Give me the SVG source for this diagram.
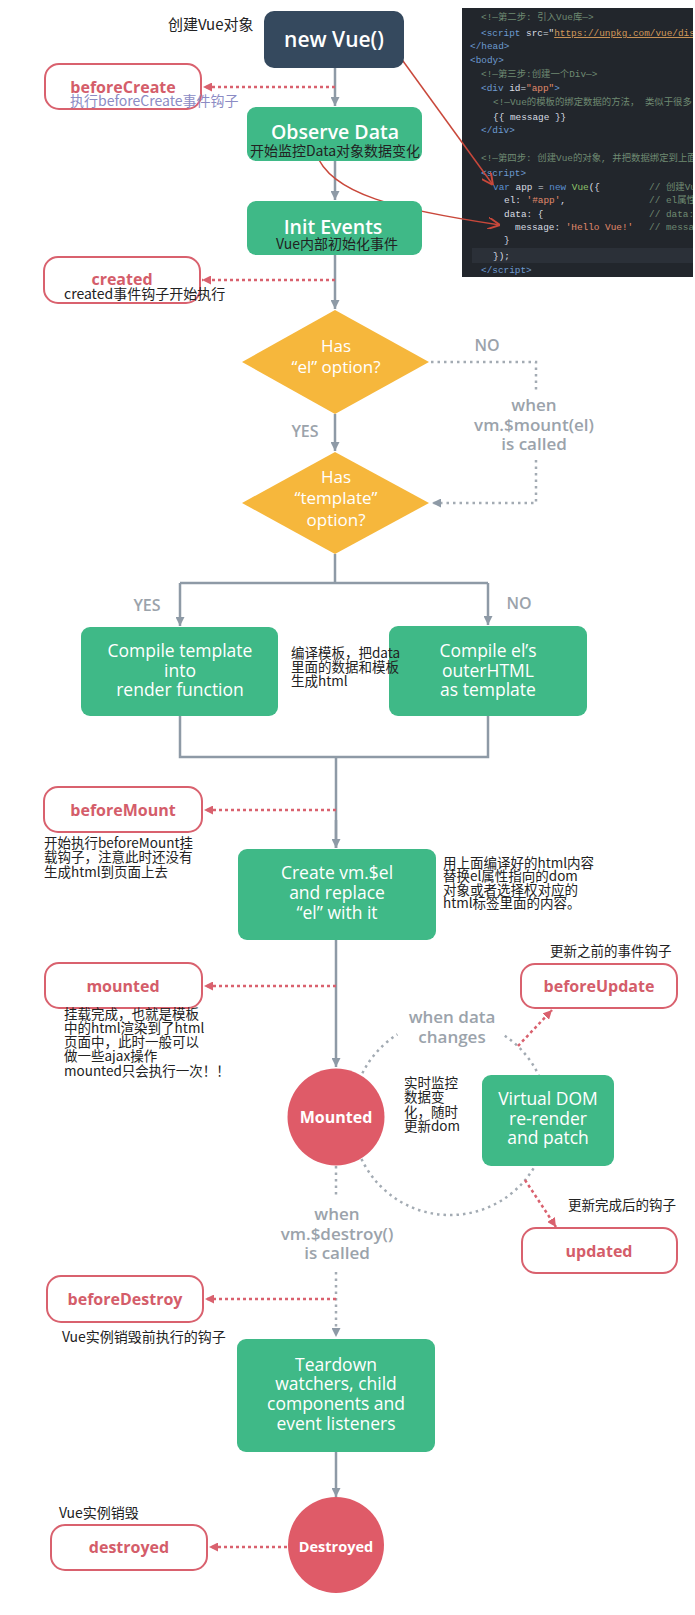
<svg xmlns="http://www.w3.org/2000/svg" width="695" height="1615" viewBox="0 0 695 1615">
<style>
.box{fill:#3fb987}
.hook{fill:#fff;stroke:#d9616e;stroke-width:2}
.ht{font-family:'Open Sans','Noto Sans',sans-serif;font-weight:700;font-size:16px;fill:#d45d6a;text-anchor:middle}
.wt{font-family:'Open Sans','Noto Sans',sans-serif;font-weight:600;fill:#fff;text-anchor:middle}
.gt{font-family:'Open Sans','Noto Sans',sans-serif;font-weight:600;fill:#9ba3ab;text-anchor:middle}
.an{font-family:'Noto Sans CJK SC','Noto Sans',sans-serif;font-size:13.5px;fill:#222}
.main{stroke:#8e9aa6;stroke-width:2.5;fill:none}
.dash{stroke:#d9616e;stroke-width:2.5;stroke-dasharray:3 3;fill:none}
.dot{stroke:#a3abb3;stroke-width:2.5;stroke-dasharray:2.5 4;fill:none}
.code{font-family:'Liberation Mono','Noto Sans CJK SC',monospace;font-size:9.4px}
.cm{fill:#6f8a72}.tg{fill:#6d9bd1}.kw{fill:#5a8fd0}.st{fill:#e08a6b}.pl{fill:#d9dde3}.fn{fill:#8fc46a}.url{fill:#d39a5a;text-decoration:underline}
.red{stroke:#c9483b;stroke-width:1.5;fill:none}
</style>
<defs>
<marker id="ag" viewBox="0 0 10 10" refX="10" refY="5" markerWidth="9" markerHeight="9" markerUnits="userSpaceOnUse" orient="auto"><path d="M0,0 L10,5 L0,10 z" fill="#8e9aa6"/></marker>
<marker id="ar" viewBox="0 0 10 10" refX="10" refY="5" markerWidth="9" markerHeight="9" markerUnits="userSpaceOnUse" orient="auto"><path d="M0,0 L10,5 L0,10 z" fill="#d9616e"/></marker>
<marker id="ac" viewBox="0 0 10 10" refX="10" refY="5" markerWidth="12" markerHeight="12" markerUnits="userSpaceOnUse" orient="auto"><path d="M0,0 L10,5 L0,10" fill="none" stroke="#c9483b" stroke-width="1.6"/></marker>
<clipPath id="cc"><rect x="462" y="8" width="231" height="269"/></clipPath>
</defs>

<g id="code-screenshot">
<rect x="462" y="8" width="231" height="269" fill="#22262c"/>
<rect x="472" y="248" width="221" height="15" fill="#2b3038"/>
<g clip-path="url(#cc)" class="code" xml:space="preserve">
<text x="481" y="20" class="cm">&lt;!—第二步: 引入Vue库—&gt;</text>
<text x="481" y="36"><tspan class="tg">&lt;script</tspan><tspan class="pl"> src="</tspan><tspan class="url">https://unpkg.com/vue/dis</tspan></text>
<text x="470" y="49" class="tg">&lt;/head&gt;</text>
<text x="470" y="63" class="tg">&lt;body&gt;</text>
<text x="481" y="77" class="cm">&lt;!—第三步:创建一个Div—&gt;</text>
<text x="481" y="91"><tspan class="tg">&lt;div</tspan><tspan class="pl"> id=</tspan><tspan class="st">"app"</tspan><tspan class="tg">&gt;</tspan></text>
<text x="493" y="105" class="cm">&lt;!—Vue的模板的绑定数据的方法， 类似于很多</text>
<text x="493" y="120" class="pl">{{ message }}</text>
<text x="481" y="133" class="tg">&lt;/div&gt;</text>
<text x="481" y="161" class="cm">&lt;!—第四步: 创建Vue的对象, 并把数据绑定到上面</text>
<text x="481" y="176" class="tg">&lt;script&gt;</text>
<text x="493" y="190"><tspan class="kw">var</tspan><tspan class="pl"> app = </tspan><tspan class="kw">new</tspan><tspan class="fn"> Vue</tspan><tspan class="pl">({</tspan></text>
<text x="649" y="190" class="cm">// 创建Vu</text>
<text x="504" y="203"><tspan class="pl">el: </tspan><tspan class="st">'#app'</tspan><tspan class="pl">,</tspan></text>
<text x="649" y="203" class="cm">// el属性</text>
<text x="504" y="217" class="pl">data: {</text>
<text x="649" y="217" class="cm">// data:</text>
<text x="515" y="230"><tspan class="pl">message: </tspan><tspan class="st">'Hello Vue!'</tspan></text>
<text x="649" y="230" class="cm">// messa</text>
<text x="504" y="243" class="pl">}</text>
<text x="493" y="259" class="pl">});</text>
<text x="481" y="273" class="tg">&lt;/script&gt;</text>
</g>
</g>

<g id="connectors">
<path class="main" d="M335 68 V106" marker-end="url(#ag)"/>
<path class="main" d="M335 161 V200" marker-end="url(#ag)"/>
<path class="main" d="M335 255 V309" marker-end="url(#ag)"/>
<path class="main" d="M335 414 V451" marker-end="url(#ag)"/>
<path class="main" d="M335 554 V583 M180 583 H488"/>
<path class="main" d="M180 583 V626" marker-end="url(#ag)"/>
<path class="main" d="M488 583 V625" marker-end="url(#ag)"/>
<path class="main" d="M180 716 V757 H488 V716 M336 757 V848" />
<path class="main" d="M336 820 V848" marker-end="url(#ag)"/>
<path class="main" d="M336 940 V1067" marker-end="url(#ag)"/>
<path class="dot" d="M336 1166 V1197"/>
<path class="dot" d="M336 1272 V1337" marker-end="url(#ag)"/>
<path class="main" d="M336 1452 V1497" marker-end="url(#ag)"/>
<path class="dot" d="M431 362 H536 V392"/>
<path class="dot" d="M536 460 V503 H432" marker-end="url(#ag)"/>
<path class="dash" d="M335 87 H203" marker-end="url(#ar)"/>
<path class="dash" d="M335 280 H202" marker-end="url(#ar)"/>
<path class="dash" d="M336 810 H204" marker-end="url(#ar)"/>
<path class="dash" d="M336 986 H204" marker-end="url(#ar)"/>
<path class="dash" d="M336 1299 H205" marker-end="url(#ar)"/>
<path class="dash" d="M287 1547 H209" marker-end="url(#ar)"/>
<path class="dot" d="M504.8 1035.8 A98 98 0 1 1 397.4 1034.4"/>
<path class="dash" d="M518 1046 L552 1010" marker-end="url(#ar)"/>
<path class="dash" d="M525 1180 L556 1227" marker-end="url(#ar)"/>
<path class="red" d="M395 50 L493 185" marker-end="url(#ac)"/>
<path class="red" d="M316 153 C330 195 400 210 500 225" marker-end="url(#ac)"/>
</g>

<g id="label-create">
<text x="168" y="30" class="an" style="font-size:15px">创建Vue对象</text>
</g>

<g id="new-vue">
<rect x="264" y="11" width="140" height="57" rx="10" fill="#35495e"/>
<text x="334" y="47" class="wt" style="font-size:21px">new Vue()</text>
</g>

<g id="beforeCreate">
<rect class="hook" x="45" y="64" width="156" height="45" rx="14"/>
<text x="123" y="93" class="ht">beforeCreate</text>
<text x="70" y="106" class="an" style="font-size:14px;fill:#8b8bc4">执行beforeCreate事件钩子</text>
</g>

<g id="observe-data">
<rect class="box" x="247" y="107" width="175" height="54" rx="9"/>
<text x="335" y="139" class="wt" style="font-size:19.5px">Observe Data</text>
<text x="335" y="156" class="an" style="font-size:14px;text-anchor:middle">开始监控Data对象数据变化</text>
</g>

<g id="init-events">
<rect class="box" x="247" y="201" width="175" height="54" rx="9"/>
<text x="333" y="234" class="wt" style="font-size:19.5px">Init Events</text>
<text x="337" y="249" class="an" style="font-size:14px;text-anchor:middle">Vue内部初始化事件</text>
</g>

<g id="created">
<rect class="hook" x="44" y="257" width="156" height="46" rx="14"/>
<text x="122" y="285" class="ht">created</text>
<text x="64" y="299" class="an" style="font-size:14px">created事件钩子开始执行</text>
</g>

<g id="has-el">
<polygon points="335,310 429,362 335,414 242,362" fill="#f6b73c"/>
<text x="336" y="352" class="wt" style="font-size:17px;font-weight:500">Has</text>
<text x="336" y="373" class="wt" style="font-size:17px;font-weight:500">“el” option?</text>
</g>

<g id="labels-el">
<text x="487" y="351" class="gt" style="font-size:16px">NO</text>
<text x="305" y="437" class="gt" style="font-size:16px">YES</text>
<text x="534" y="411" class="gt" style="font-size:17px">when</text>
<text x="534" y="431" class="gt" style="font-size:17px">vm.$mount(el)</text>
<text x="534" y="450" class="gt" style="font-size:17px">is called</text>
</g>

<g id="has-template">
<polygon points="335,452 429,503 335,554 242,503" fill="#f6b73c"/>
<text x="336" y="483" class="wt" style="font-size:17px;font-weight:500">Has</text>
<text x="336" y="504" class="wt" style="font-size:17px;font-weight:500">“template”</text>
<text x="336" y="526" class="wt" style="font-size:17px;font-weight:500">option?</text>
</g>

<g id="labels-template">
<text x="147" y="611" class="gt" style="font-size:16px">YES</text>
<text x="519" y="609" class="gt" style="font-size:16px">NO</text>
</g>

<g id="compile-template">
<rect class="box" x="81" y="627" width="197" height="89" rx="9"/>
<text x="180" y="657" class="wt" style="font-size:17.5px;font-weight:500">Compile template</text>
<text x="180" y="677" class="wt" style="font-size:17.5px;font-weight:500">into</text>
<text x="180" y="696" class="wt" style="font-size:17.5px;font-weight:500">render function</text>
</g>

<g id="compile-el">
<rect class="box" x="389" y="626" width="198" height="90" rx="9"/>
<text x="488" y="657" class="wt" style="font-size:17.5px;font-weight:500">Compile el’s</text>
<text x="488" y="677" class="wt" style="font-size:17.5px;font-weight:500">outerHTML</text>
<text x="488" y="696" class="wt" style="font-size:17.5px;font-weight:500">as template</text>
</g>

<g id="compile-note">
<text x="291" y="658" class="an">编译模板，把data</text>
<text x="291" y="672" class="an">里面的数据和模板</text>
<text x="291" y="686" class="an">生成html</text>
</g>

<g id="beforeMount">
<rect class="hook" x="44" y="787" width="158" height="45" rx="14"/>
<text x="123" y="816" class="ht">beforeMount</text>
<text x="44" y="848" class="an">开始执行beforeMount挂</text>
<text x="44" y="862" class="an">载钩子，注意此时还没有</text>
<text x="44" y="877" class="an">生成html到页面上去</text>
</g>

<g id="create-el">
<rect class="box" x="238" y="849" width="198" height="91" rx="9"/>
<text x="337" y="879" class="wt" style="font-size:17.5px;font-weight:500">Create vm.$el</text>
<text x="337" y="899" class="wt" style="font-size:17.5px;font-weight:500">and replace</text>
<text x="337" y="919" class="wt" style="font-size:17.5px;font-weight:500">“el” with it</text>
</g>

<g id="create-note">
<text x="443" y="868" class="an">用上面编译好的html内容</text>
<text x="443" y="881" class="an">替换el属性指向的dom</text>
<text x="443" y="895" class="an">对象或者选择权对应的</text>
<text x="443" y="908" class="an">html标签里面的内容。</text>
</g>

<g id="mounted">
<rect class="hook" x="45" y="963" width="157" height="45" rx="14"/>
<text x="123" y="992" class="ht">mounted</text>
<text x="64" y="1019" class="an">挂载完成，也就是模板</text>
<text x="64" y="1033" class="an">中的html渲染到了html</text>
<text x="64" y="1047" class="an">页面中，此时一般可以</text>
<text x="64" y="1061" class="an">做一些ajax操作</text>
<text x="64" y="1076" class="an">mounted只会执行一次！！</text>
</g>

<g id="beforeUpdate">
<text x="550" y="956" class="an">更新之前的事件钩子</text>
<rect class="hook" x="521" y="964" width="156" height="44" rx="14"/>
<text x="599" y="992" class="ht">beforeUpdate</text>
</g>

<g id="label-data-changes">
<text x="452" y="1023" class="gt" style="font-size:17px">when data</text>
<text x="452" y="1043" class="gt" style="font-size:17px">changes</text>
</g>

<g id="mounted-state">
<circle cx="336" cy="1117" r="48.5" fill="#df5b68"/>
<text x="336" y="1123" class="wt" style="font-size:16px;font-weight:700">Mounted</text>
</g>

<g id="realtime-note">
<text x="404" y="1088" class="an">实时监控</text>
<text x="404" y="1102" class="an">数据变</text>
<text x="404" y="1117" class="an">化，随时</text>
<text x="404" y="1131" class="an">更新dom</text>
</g>

<g id="virtual-dom">
<rect class="box" x="482" y="1075" width="132" height="91" rx="9"/>
<text x="548" y="1105" class="wt" style="font-size:17.5px;font-weight:500">Virtual DOM</text>
<text x="548" y="1125" class="wt" style="font-size:17.5px;font-weight:500">re-render</text>
<text x="548" y="1144" class="wt" style="font-size:17.5px;font-weight:500">and patch</text>
</g>

<g id="updated">
<text x="568" y="1210" class="an">更新完成后的钩子</text>
<rect class="hook" x="522" y="1228" width="155" height="45" rx="14"/>
<text x="599" y="1257" class="ht">updated</text>
</g>

<g id="label-destroy">
<text x="337" y="1220" class="gt" style="font-size:17px">when</text>
<text x="337" y="1240" class="gt" style="font-size:17px">vm.$destroy()</text>
<text x="337" y="1259" class="gt" style="font-size:17px">is called</text>
</g>

<g id="beforeDestroy">
<rect class="hook" x="47" y="1276" width="156" height="46" rx="14"/>
<text x="125" y="1305" class="ht">beforeDestroy</text>
<text x="62" y="1342" class="an" style="font-size:14px">Vue实例销毁前执行的钩子</text>
</g>

<g id="teardown">
<rect class="box" x="237" y="1339" width="198" height="113" rx="9"/>
<text x="336" y="1371" class="wt" style="font-size:17.5px;font-weight:500">Teardown</text>
<text x="336" y="1390" class="wt" style="font-size:17.5px;font-weight:500">watchers, child</text>
<text x="336" y="1410" class="wt" style="font-size:17.5px;font-weight:500">components and</text>
<text x="336" y="1430" class="wt" style="font-size:17.5px;font-weight:500">event listeners</text>
</g>

<g id="destroyed-state">
<circle cx="336" cy="1545" r="48" fill="#df5b68"/>
<text x="336" y="1552" class="wt" style="font-size:14.5px;font-weight:700">Destroyed</text>
</g>

<g id="destroyed">
<text x="59" y="1518" class="an" style="font-size:14px">Vue实例销毁</text>
<rect class="hook" x="51" y="1525" width="156" height="45" rx="14"/>
<text x="129" y="1553" class="ht">destroyed</text>
</g>
</svg>
